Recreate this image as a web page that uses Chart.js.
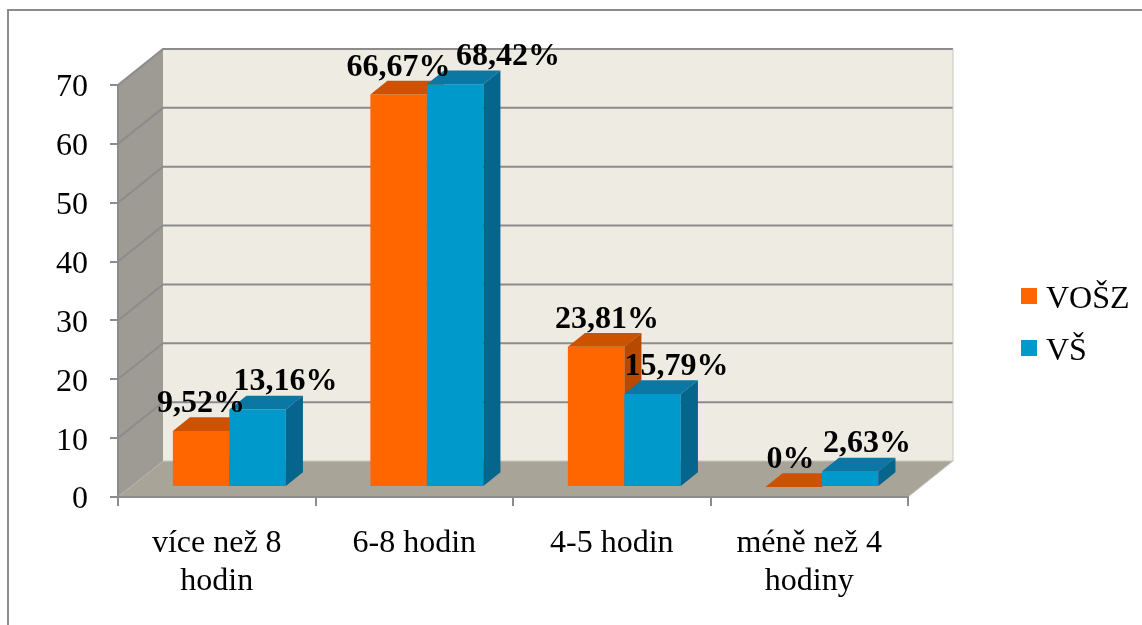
<!DOCTYPE html>
<html>
<head>
<meta charset="utf-8">
<title>Délka spánku</title>
<script src="https://cdn.jsdelivr.net/npm/chart.js@4.4.1/dist/chart.umd.min.js"></script>
<style>
  html, body { margin: 0; padding: 0; background: #fff; }
  #wrap { width: 1142px; height: 625px; }
</style>
</head>
<body>
<div id="wrap"><canvas id="myChart" width="1142" height="625"></canvas></div>
<script>
// data
const categories = [['více než 8', 'hodin'], '6-8 hodin', '4-5 hodin', ['méně než 4', 'hodiny']];
const seriesNames = ['VOŠZ', 'VŠ'];
const voszValues = [9.52, 66.67, 23.81, 0];
const vsValues = [13.16, 68.42, 15.79, 2.63];
const yTicks = [0, 10, 20, 30, 40, 50, 60, 70];

// look
const FONT = '"Liberation Serif", "Times New Roman", serif';
const GRID = '#8c8c8c';
const DEPTH = { dx: 45, dy: -36 };   // depth of the 3D box
const BAR_FRONT = 0.28;              // bars stand this far into the box
const BAR_DEPTH = 0.38;              // bar thickness
const faces = [
  { front: '#ff6600', top: '#cc5200', side: '#b84900' },
  { front: '#0099cc', top: '#0a77a4', side: '#06658c' }
];
// sideways nudges of the value labels (Excel moved some of them)
const labelShift = [[0, 0, 11, -3], [28, 53, 24, 17]];

function fmt(v) {
  return v === 0 ? '0%' : v.toFixed(2).replace('.', ',') + '%';
}

function poly(ctx, pts, fill) {
  ctx.beginPath();
  ctx.moveTo(pts[0][0], pts[0][1]);
  for (let i = 1; i < pts.length; i++) ctx.lineTo(pts[i][0], pts[i][1]);
  ctx.closePath();
  ctx.fillStyle = fill;
  ctx.fill();
}

const box3d = {
  id: 'box3d',
  beforeDraw(chart) {
    const { ctx, chartArea: a, scales: { y } } = chart;
    const { dx, dy } = DEPTH;
    ctx.save();
    // outer frame
    ctx.strokeStyle = GRID;
    ctx.lineWidth = 2;
    ctx.beginPath();
    ctx.moveTo(8, 625);
    ctx.lineTo(8, 10);
    ctx.lineTo(1142, 10);
    ctx.stroke();

    // walls and floor
    poly(ctx, [[a.left, a.top], [a.left + dx, a.top + dy], [a.left + dx, a.bottom + dy], [a.left, a.bottom]], '#9e9b94');
    poly(ctx, [[a.left + dx, a.top + dy], [a.right + dx, a.top + dy], [a.right + dx, a.bottom + dy], [a.left + dx, a.bottom + dy]], '#eeebe2');
    poly(ctx, [[a.left, a.bottom], [a.left + dx, a.bottom + dy], [a.right + dx, a.bottom + dy], [a.right, a.bottom]], '#a8a497');

    // grid lines on side and back wall
    ctx.strokeStyle = GRID;
    ctx.lineWidth = 2;
    yTicks.forEach(v => {
      if (v === 0) return;
      const py = y.getPixelForValue(v);
      ctx.beginPath();
      ctx.moveTo(a.left, py);
      ctx.lineTo(a.left + dx, py + dy);
      ctx.lineTo(a.right + dx, py + dy);
      ctx.stroke();
    });
    ctx.strokeStyle = '#c9c6bd';
    ctx.lineWidth = 1;
    ctx.beginPath();
    ctx.moveTo(a.left + dx, a.bottom + dy);
    ctx.lineTo(a.right + dx, a.bottom + dy);
    ctx.moveTo(a.right + dx, a.top + dy);
    ctx.lineTo(a.right + dx, a.bottom + dy);
    ctx.lineTo(a.right, a.bottom);
    ctx.stroke();
    ctx.restore();
  },
  beforeDatasetDraw() {
    return false;
  },
  afterDatasetsDraw(chart) {
    const { ctx } = chart;
    const fx = DEPTH.dx * BAR_FRONT, fy = DEPTH.dy * BAR_FRONT;
    const ddx = DEPTH.dx * BAR_DEPTH, ddy = DEPTH.dy * BAR_DEPTH;
    const metas = chart.data.datasets.map((d, i) => chart.getDatasetMeta(i));
    ctx.save();
    // boxes, category by category
    categories.forEach((c, j) => {
      metas.forEach((meta, i) => {
        const el = meta.data[j];
        const w = el.width;
        const x0 = el.x - w / 2 + fx, x1 = el.x + w / 2 + fx;
        const yt = el.y + fy, yb = el.base + fy;
        const f = faces[i];
        if (yb > yt) poly(ctx, [[x0, yt], [x1, yt], [x1, yb], [x0, yb]], f.front);
        poly(ctx, [[x0, yt], [x0 + ddx, yt + ddy], [x1 + ddx, yt + ddy], [x1, yt]], f.top);
        poly(ctx, [[x1, yt], [x1 + ddx, yt + ddy], [x1 + ddx, yb + ddy], [x1, yb]], f.side);
      });
    });
    // value labels
    ctx.fillStyle = '#000';
    ctx.font = 'bold 32px ' + FONT;
    ctx.textAlign = 'center';
    ctx.textBaseline = 'alphabetic';
    metas.forEach((meta, i) => {
      const values = chart.data.datasets[i].data;
      meta.data.forEach((el, j) => {
        ctx.fillText(fmt(values[j]), el.x + fx + labelShift[i][j], el.y + fy - 19);
      });
    });
    ctx.restore();
  },
  afterDraw(chart) {
    const { ctx } = chart;
    ctx.save();
    ctx.font = '32px ' + FONT;
    ctx.textBaseline = 'alphabetic';
    ctx.textAlign = 'left';
    seriesNames.forEach((name, i) => {
      const top = 288 + i * 52;
      ctx.fillStyle = faces[i].front;
      ctx.fillRect(1021, top, 16, 16);
      ctx.fillStyle = '#000';
      ctx.fillText(name, 1046, top + 20);
    });
    ctx.restore();
  }
};

new Chart(document.getElementById('myChart'), {
  type: 'bar',
  data: {
    labels: categories,
    datasets: [
      { label: seriesNames[0], data: voszValues, backgroundColor: faces[0].front },
      { label: seriesNames[1], data: vsValues, backgroundColor: faces[1].front }
    ]
  },
  options: {
    responsive: false,
    animation: false,
    events: [],
    layout: { padding: { top: 85, right: 234, left: 0, bottom: 0 } },
    datasets: { bar: { categoryPercentage: 0.572, barPercentage: 1 } },
    plugins: { legend: { display: false }, tooltip: { enabled: false } },
    scales: {
      x: {
        grid: { drawOnChartArea: false, color: GRID, lineWidth: 2, tickLength: 9, offset: true },
        border: { color: GRID, width: 2 },
        ticks: {
          color: '#000',
          font: { family: FONT, size: 32, lineHeight: 1.17 },
          padding: 19,
          maxRotation: 0,
          autoSkip: false
        },
        afterFit(scale) { scale.height = 128; }
      },
      y: {
        min: 0,
        max: 70,
        afterBuildTicks(scale) { scale.ticks = yTicks.map(v => ({ value: v })); },
        grid: { drawOnChartArea: false, color: GRID, lineWidth: 2, tickLength: 8 },
        border: { color: GRID, width: 2 },
        ticks: { color: '#000', font: { family: FONT, size: 32 }, padding: 22, labelOffset: 3 },
        afterFit(scale) { scale.width = 118; }
      }
    }
  },
  plugins: [box3d]
});
</script>
</body>
</html>
